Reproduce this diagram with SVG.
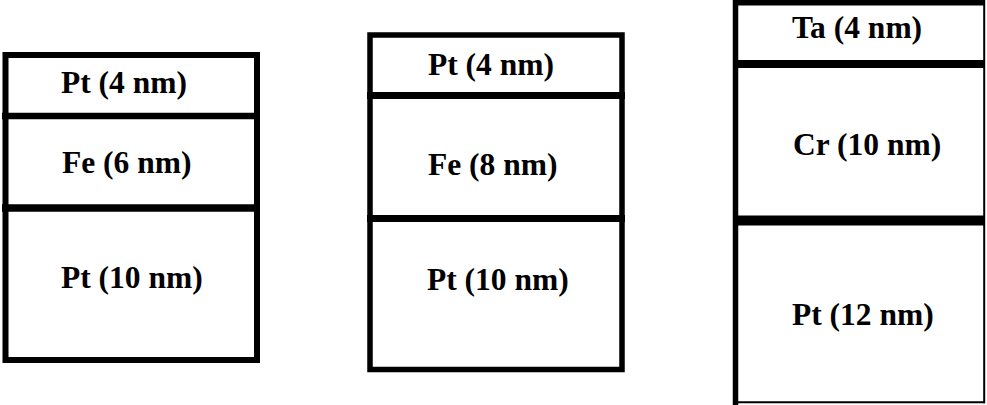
<svg xmlns="http://www.w3.org/2000/svg" width="987" height="405" viewBox="0 0 987 405">
  <style>
    .box { fill: #ffffff; stroke: #000000; stroke-width: 5.5; }
    .div { stroke: #000000; fill: none; }
    .edge { stroke: #000000; stroke-width: 2; fill: none; }
    .lbl { font-family: "Liberation Serif", "Times New Roman", serif; font-weight: bold; font-size: 31.5px; fill: #000000; }
  </style>
  <rect x="0" y="0" width="987" height="405" fill="#ffffff"/>
  <g id="stack1">
    <rect class="box" x="5.5" y="55" width="251.5" height="305" style="stroke-width:6"/>
    <line class="div" x1="2" y1="116" x2="259.5" y2="116" stroke-width="6.5"/>
    <line class="div" x1="2" y1="208" x2="259.5" y2="208" stroke-width="7.5"/>
    <text class="lbl" x="61" y="93">Pt (4 nm)</text>
    <text class="lbl" x="62" y="173">Fe (6 nm)</text>
    <text class="lbl" x="61" y="288">Pt (10 nm)</text>
  </g>
  <g id="stack2">
    <rect class="box" x="370" y="35" width="252" height="334.5" style="stroke-width:5.5"/>
    <line class="div" x1="367" y1="95.5" x2="625" y2="95.5" stroke-width="7"/>
    <line class="div" x1="367" y1="218.5" x2="625" y2="218.5" stroke-width="7"/>
    <text class="lbl" x="428" y="75">Pt (4 nm)</text>
    <text class="lbl" x="428" y="175">Fe (8 nm)</text>
    <text class="lbl" x="427" y="290">Pt (10 nm)</text>
  </g>
  <g id="stack3">
    <line class="div" x1="735.5" y1="0" x2="735.5" y2="405" stroke-width="5.5"/>
    <line class="div" x1="733" y1="2.8" x2="985" y2="2.8" stroke-width="5.6"/>
    <line class="edge" x1="984.2" y1="0" x2="984.2" y2="403.2"/>
    <line class="edge" x1="733" y1="402.2" x2="985" y2="402.2"/>
    <line class="div" x1="733" y1="64" x2="985" y2="64" stroke-width="8"/>
    <line class="div" x1="733" y1="220.5" x2="985" y2="220.5" stroke-width="10"/>
    <text class="lbl" x="792" y="38">Ta (4 nm)</text>
    <text class="lbl" x="793" y="155">Cr (10 nm)</text>
    <text class="lbl" x="792" y="325">Pt (12 nm)</text>
  </g>
  <g id="connectors"></g>
</svg>
